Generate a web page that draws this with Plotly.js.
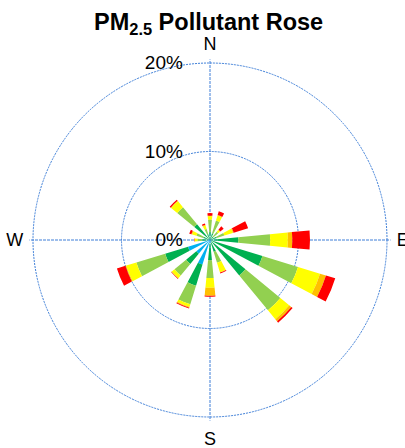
<!DOCTYPE html>
<html>
<head>
<meta charset="utf-8">
<script src="https://cdn.plot.ly/plotly-3.0.1.min.js"></script>
<style>
  html, body { margin: 0; padding: 0; background: #fff; }
  #rose { width: 405px; height: 448px; }
</style>
</head>
<body>
<div id="rose"></div>
<script>
// Direction bins (compass degrees) and their labels
const directions = [0, 22.5, 45, 67.5, 90, 112.5, 135, 157.5, 180, 202.5, 225, 247.5, 270, 292.5, 315, 337.5];
const dirTicks = [0, 90, 180, 270];
const dirLabels = ['N', 'E', 'S', 'W'];
const radialTicks = [0, 10, 20];
const radialLabels = ['0%', '10%', '20%'];

// Concentration bins (percent of time), stacked from the centre outwards
const binColors = ['#00B0F0', '#00B050', '#92D050', '#FFFF00', '#FFC000', '#FF0000'];
const binBlue      = [0,   0,   0,   0,   0,   0,   0,   0.3, 0.3, 2.9, 2.0, 2.6, 0.2, 0,   0,   0  ];
const binDarkGreen = [0.9, 0.8, 0.5, 0.8, 3.2, 6.2, 5.2, 1.1, 2.0, 2.5, 1.5, 2.7, 0.7, 0.8, 2.3, 0.7];
const binLightGreen= [1.4, 1.5, 0.7, 0.9, 3.6, 4.2, 5.1, 1.3, 2.0, 2.2, 1.7, 3.4, 0.5, 0.8, 2.5, 0.6];
const binYellow    = [0.4, 0.6, 0.25,1.0, 2.0, 2.6, 1.3, 1.1, 1.1, 0.3, 0.4, 1.2, 0.35,0.5, 0.9, 0.4];
const binOrange    = [0.05,0.05,0.05,0.1, 0.5, 0.7, 0.3, 0.05,0.9, 0.1, 0.05,0.1, 0,   0.1, 0.05,0.1];
const binRed       = [0.3, 0.45,0.5, 1.7, 2.0, 1.1, 0.2, 0.1, 0.1, 0.1, 0.05,1.0, 0.05,0.25,0.15,0.15];

const binValues = [binBlue, binDarkGreen, binLightGreen, binYellow, binOrange, binRed];

const gridBlue = '#3F7FD8';

// radius in px of the 20% ring is 177; axis runs a little past it so the ring gets drawn
const rMax = 20.4;
const rPx = 177 * rMax / 20;

const traces = binValues.map((vals, i) => ({
    type: 'barpolar',
    r: vals,
    theta: directions,
    width: 11,
    marker: { color: binColors[i], line: { width: 0 } },
    hoverinfo: 'skip'
}));

const layout = {
    width: 405,
    height: 448,
    margin: { l: 0, r: 0, t: 0, b: 0 },
    paper_bgcolor: '#fff',
    showlegend: false,
    font: { family: 'Liberation Sans, Arial, sans-serif', color: '#000' },
    title: {
        text: '<b>PM<sub>2.5</sub> Pollutant Rose</b>',
        font: { size: 23.5, color: '#000' },
        x: 0.515, xanchor: 'center',
        y: 0.952, yref: 'container', yanchor: 'middle'
    },
    polar: {
        domain: {
            x: [(210 - rPx) / 405, (210 + rPx) / 405],
            y: [(448 - 240 - rPx) / 448, (448 - 240 + rPx) / 448]
        },
        bgcolor: 'rgba(0,0,0,0)',
        barmode: 'stack',
        radialaxis: {
            range: [0, rMax],
            tickmode: 'array',
            tickvals: radialTicks,
            ticktext: radialLabels,
            angle: 90,
            side: 'counterclockwise',
            tickangle: 90,
            showline: false,
            ticks: 'outside',
            ticklen: 20,
            tickcolor: 'rgba(0,0,0,0)',
            gridcolor: gridBlue,
            griddash: '2px,1px',
            gridwidth: 1,
            tickfont: { size: 19, color: '#000' }
        },
        angularaxis: {
            direction: 'clockwise',
            rotation: 90,
            tickvals: dirTicks,
            ticktext: dirLabels,
            showline: false,
            ticks: 'outside',
            ticklen: 2,
            tickcolor: 'rgba(0,0,0,0)',
            gridcolor: gridBlue,
            griddash: '3px,1px',
            gridwidth: 1,
            tickfont: { size: 18, color: '#000' }
        }
    }
};

Plotly.newPlot('rose', traces, layout, { staticPlot: true });
</script>
</body>
</html>
